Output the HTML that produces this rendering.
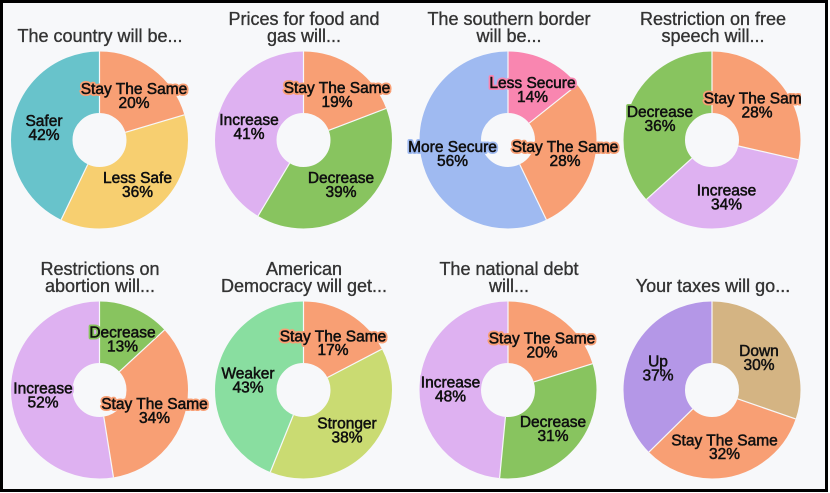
<!DOCTYPE html>
<html>
<head>
<meta charset="utf-8">
<style>
  html, body { margin: 0; padding: 0; background: #ffffff; }
  body { width: 830px; height: 493px; overflow: hidden; }
  svg { display: block; }
  .t { font-family: "Liberation Sans", Arial, sans-serif; font-size: 18px; fill: #333333; text-anchor: middle;
       stroke: #333333; stroke-width: 0.35px; }
  .l { font-family: "Liberation Sans", Arial, sans-serif; font-size: 15.5px; fill: #111111; text-anchor: middle;
       stroke-width: 4px; stroke-linejoin: round; paint-order: stroke; }
  .f text { font-family: "Liberation Sans", Arial, sans-serif; font-size: 15.5px; fill: #111111; text-anchor: middle;
       stroke: #111111; stroke-width: 0.5px; }
  .sep { stroke: #f7f8fa; stroke-width: 1.2; }
</style>
</head>
<body>
<svg width="830" height="493" viewBox="0 0 830 493" xmlns="http://www.w3.org/2000/svg">
  <defs>
    <clipPath id="c4"><rect x="600" y="0" width="201" height="250"/></clipPath>
  </defs>
  <rect x="0" y="0" width="830" height="493" fill="#ffffff"/>
  <rect x="1.5" y="1.5" width="825" height="489" fill="#f7f8fa" stroke="#000000" stroke-width="3"/>

  <!-- ================= Chart 1 ================= -->
  <g transform="rotate(-90 99.5 140)" fill="none" stroke-width="61.5">
    <circle cx="99.5" cy="140" r="57.75" pathLength="100" stroke="#f89f74" stroke-dasharray="20.408 100" stroke-dashoffset="0"/>
    <circle cx="99.5" cy="140" r="57.75" pathLength="100" stroke="#f7cf70" stroke-dasharray="36.735 100" stroke-dashoffset="-20.408"/>
    <circle cx="99.5" cy="140" r="57.75" pathLength="100" stroke="#68c3cb" stroke-dasharray="42.857 100" stroke-dashoffset="-57.143"/>
  </g>
  <g class="sep">
    <line x1="99.5" y1="113" x2="99.5" y2="51.5" transform="rotate(0 99.5 140)"/>
    <line x1="99.5" y1="113" x2="99.5" y2="51.5" transform="rotate(73.47 99.5 140)"/>
    <line x1="99.5" y1="113" x2="99.5" y2="51.5" transform="rotate(205.71 99.5 140)"/>
  </g>
  <text class="t" x="100" y="42">The country will be...</text>
  <text class="l" x="134" y="94" stroke="#f89f74">Stay The Same</text>
  <text class="l" x="134" y="108" stroke="#f89f74">20%</text>
  <text class="l" x="44" y="126" stroke="#68c3cb">Safer</text>
  <text class="l" x="44" y="140" stroke="#68c3cb">42%</text>
  <text class="l" x="137.5" y="183" stroke="#f7cf70">Less Safe</text>
  <text class="l" x="137.5" y="197" stroke="#f7cf70">36%</text>
  <g class="f">
    <text x="134" y="94">Stay The Same</text>
    <text x="134" y="108">20%</text>
    <text x="44" y="126">Safer</text>
    <text x="44" y="140">42%</text>
    <text x="137.5" y="183">Less Safe</text>
    <text x="137.5" y="197">36%</text>
  </g>

  <!-- ================= Chart 2 ================= -->
  <g transform="rotate(-90 303.5 140)" fill="none" stroke-width="61.5">
    <circle cx="303.5" cy="140" r="57.75" pathLength="100" stroke="#f89f74" stroke-dasharray="19.192 100" stroke-dashoffset="0"/>
    <circle cx="303.5" cy="140" r="57.75" pathLength="100" stroke="#88c45f" stroke-dasharray="39.394 100" stroke-dashoffset="-19.192"/>
    <circle cx="303.5" cy="140" r="57.75" pathLength="100" stroke="#deb1f1" stroke-dasharray="41.414 100" stroke-dashoffset="-58.586"/>
  </g>
  <g class="sep">
    <line x1="303.5" y1="113" x2="303.5" y2="51.5" transform="rotate(0 303.5 140)"/>
    <line x1="303.5" y1="113" x2="303.5" y2="51.5" transform="rotate(69.09 303.5 140)"/>
    <line x1="303.5" y1="113" x2="303.5" y2="51.5" transform="rotate(210.91 303.5 140)"/>
  </g>
  <text class="t" x="304" y="25">Prices for food and</text>
  <text class="t" x="304" y="42">gas will...</text>
  <text class="l" x="337" y="93" stroke="#f89f74">Stay The Same</text>
  <text class="l" x="337" y="107" stroke="#f89f74">19%</text>
  <text class="l" x="249" y="125" stroke="#deb1f1">Increase</text>
  <text class="l" x="249" y="139" stroke="#deb1f1">41%</text>
  <text class="l" x="341" y="183" stroke="#88c45f">Decrease</text>
  <text class="l" x="341" y="197" stroke="#88c45f">39%</text>
  <g class="f">
    <text x="337" y="93">Stay The Same</text>
    <text x="337" y="107">19%</text>
    <text x="249" y="125">Increase</text>
    <text x="249" y="139">41%</text>
    <text x="341" y="183">Decrease</text>
    <text x="341" y="197">39%</text>
  </g>

  <!-- ================= Chart 3 ================= -->
  <g transform="rotate(-90 508 140)" fill="none" stroke-width="61.5">
    <circle cx="508" cy="140" r="57.75" pathLength="100" stroke="#f986b0" stroke-dasharray="14.286 100" stroke-dashoffset="0"/>
    <circle cx="508" cy="140" r="57.75" pathLength="100" stroke="#f89f74" stroke-dasharray="28.571 100" stroke-dashoffset="-14.286"/>
    <circle cx="508" cy="140" r="57.75" pathLength="100" stroke="#9fbaf1" stroke-dasharray="57.143 100" stroke-dashoffset="-42.857"/>
  </g>
  <g class="sep">
    <line x1="508" y1="113" x2="508" y2="51.5" transform="rotate(0 508 140)"/>
    <line x1="508" y1="113" x2="508" y2="51.5" transform="rotate(51.43 508 140)"/>
    <line x1="508" y1="113" x2="508" y2="51.5" transform="rotate(154.29 508 140)"/>
  </g>
  <text class="t" x="509" y="25">The southern border</text>
  <text class="t" x="509" y="42">will be...</text>
  <text class="l" x="532.5" y="88" stroke="#f986b0">Less Secure</text>
  <text class="l" x="532.5" y="102" stroke="#f986b0">14%</text>
  <text class="l" x="452.5" y="152" stroke="#9fbaf1">More Secure</text>
  <text class="l" x="452.5" y="166" stroke="#9fbaf1">56%</text>
  <text class="l" x="565" y="152" stroke="#f89f74">Stay The Same</text>
  <text class="l" x="565" y="166" stroke="#f89f74">28%</text>
  <g class="f">
    <text x="532.5" y="88">Less Secure</text>
    <text x="532.5" y="102">14%</text>
    <text x="452.5" y="152">More Secure</text>
    <text x="452.5" y="166">56%</text>
    <text x="565" y="152">Stay The Same</text>
    <text x="565" y="166">28%</text>
  </g>

  <!-- ================= Chart 4 ================= -->
  <g transform="rotate(-90 712 140)" fill="none" stroke-width="61.5">
    <circle cx="712" cy="140" r="57.75" pathLength="100" stroke="#f89f74" stroke-dasharray="28.571 100" stroke-dashoffset="0"/>
    <circle cx="712" cy="140" r="57.75" pathLength="100" stroke="#deb1f1" stroke-dasharray="34.694 100" stroke-dashoffset="-28.571"/>
    <circle cx="712" cy="140" r="57.75" pathLength="100" stroke="#88c45f" stroke-dasharray="36.735 100" stroke-dashoffset="-63.265"/>
  </g>
  <g class="sep">
    <line x1="712" y1="113" x2="712" y2="51.5" transform="rotate(0 712 140)"/>
    <line x1="712" y1="113" x2="712" y2="51.5" transform="rotate(102.86 712 140)"/>
    <line x1="712" y1="113" x2="712" y2="51.5" transform="rotate(227.76 712 140)"/>
  </g>
  <text class="t" x="713" y="25">Restriction on free</text>
  <text class="t" x="713" y="42">speech will...</text>
  <g clip-path="url(#c4)">
    <text class="l" x="757" y="103.5" stroke="#f89f74">Stay The Same</text>
    <text class="l" x="757" y="117.5" stroke="#f89f74">28%</text>
    <g class="f">
      <text x="757" y="103.5">Stay The Same</text>
      <text x="757" y="117.5">28%</text>
    </g>
  </g>
  <text class="l" x="660" y="117" stroke="#88c45f">Decrease</text>
  <text class="l" x="660" y="131" stroke="#88c45f">36%</text>
  <text class="l" x="726.5" y="195.5" stroke="#deb1f1">Increase</text>
  <text class="l" x="726.5" y="209.5" stroke="#deb1f1">34%</text>
  <g class="f">
    <text x="660" y="117">Decrease</text>
    <text x="660" y="131">36%</text>
    <text x="726.5" y="195.5">Increase</text>
    <text x="726.5" y="209.5">34%</text>
  </g>

  <!-- ================= Chart 5 ================= -->
  <g transform="rotate(-90 99.5 390)" fill="none" stroke-width="61.5">
    <circle cx="99.5" cy="390" r="57.75" pathLength="100" stroke="#88c45f" stroke-dasharray="13.131 100" stroke-dashoffset="0"/>
    <circle cx="99.5" cy="390" r="57.75" pathLength="100" stroke="#f89f74" stroke-dasharray="34.343 100" stroke-dashoffset="-13.131"/>
    <circle cx="99.5" cy="390" r="57.75" pathLength="100" stroke="#deb1f1" stroke-dasharray="52.525 100" stroke-dashoffset="-47.475"/>
  </g>
  <g class="sep">
    <line x1="99.5" y1="363" x2="99.5" y2="301.5" transform="rotate(0 99.5 390)"/>
    <line x1="99.5" y1="363" x2="99.5" y2="301.5" transform="rotate(47.27 99.5 390)"/>
    <line x1="99.5" y1="363" x2="99.5" y2="301.5" transform="rotate(170.91 99.5 390)"/>
  </g>
  <text class="t" x="100" y="275">Restrictions on</text>
  <text class="t" x="100" y="292">abortion will...</text>
  <text class="l" x="122.5" y="337.5" stroke="#88c45f">Decrease</text>
  <text class="l" x="122.5" y="351.5" stroke="#88c45f">13%</text>
  <text class="l" x="43" y="393.5" stroke="#deb1f1">Increase</text>
  <text class="l" x="43" y="407.5" stroke="#deb1f1">52%</text>
  <text class="l" x="154.5" y="409" stroke="#f89f74">Stay The Same</text>
  <text class="l" x="154.5" y="423" stroke="#f89f74">34%</text>
  <g class="f">
    <text x="122.5" y="337.5">Decrease</text>
    <text x="122.5" y="351.5">13%</text>
    <text x="43" y="393.5">Increase</text>
    <text x="43" y="407.5">52%</text>
    <text x="154.5" y="409">Stay The Same</text>
    <text x="154.5" y="423">34%</text>
  </g>

  <!-- ================= Chart 6 ================= -->
  <g transform="rotate(-90 303.5 390)" fill="none" stroke-width="61.5">
    <circle cx="303.5" cy="390" r="57.75" pathLength="100" stroke="#f89f74" stroke-dasharray="17.347 100" stroke-dashoffset="0"/>
    <circle cx="303.5" cy="390" r="57.75" pathLength="100" stroke="#cadb72" stroke-dasharray="38.776 100" stroke-dashoffset="-17.347"/>
    <circle cx="303.5" cy="390" r="57.75" pathLength="100" stroke="#89dea0" stroke-dasharray="43.878 100" stroke-dashoffset="-56.122"/>
  </g>
  <g class="sep">
    <line x1="303.5" y1="363" x2="303.5" y2="301.5" transform="rotate(0 303.5 390)"/>
    <line x1="303.5" y1="363" x2="303.5" y2="301.5" transform="rotate(62.45 303.5 390)"/>
    <line x1="303.5" y1="363" x2="303.5" y2="301.5" transform="rotate(202.04 303.5 390)"/>
  </g>
  <text class="t" x="304" y="275">American</text>
  <text class="t" x="304" y="292">Democracy will get...</text>
  <text class="l" x="333" y="341.5" stroke="#f89f74">Stay The Same</text>
  <text class="l" x="333" y="355" stroke="#f89f74">17%</text>
  <text class="l" x="248" y="378.5" stroke="#89dea0">Weaker</text>
  <text class="l" x="248" y="392.5" stroke="#89dea0">43%</text>
  <text class="l" x="347" y="428.5" stroke="#cadb72">Stronger</text>
  <text class="l" x="347" y="442.5" stroke="#cadb72">38%</text>
  <g class="f">
    <text x="333" y="341.5">Stay The Same</text>
    <text x="333" y="355">17%</text>
    <text x="248" y="378.5">Weaker</text>
    <text x="248" y="392.5">43%</text>
    <text x="347" y="428.5">Stronger</text>
    <text x="347" y="442.5">38%</text>
  </g>

  <!-- ================= Chart 7 ================= -->
  <g transform="rotate(-90 508 390)" fill="none" stroke-width="61.5">
    <circle cx="508" cy="390" r="57.75" pathLength="100" stroke="#f89f74" stroke-dasharray="20.202 100" stroke-dashoffset="0"/>
    <circle cx="508" cy="390" r="57.75" pathLength="100" stroke="#88c45f" stroke-dasharray="31.313 100" stroke-dashoffset="-20.202"/>
    <circle cx="508" cy="390" r="57.75" pathLength="100" stroke="#deb1f1" stroke-dasharray="48.485 100" stroke-dashoffset="-51.515"/>
  </g>
  <g class="sep">
    <line x1="508" y1="363" x2="508" y2="301.5" transform="rotate(0 508 390)"/>
    <line x1="508" y1="363" x2="508" y2="301.5" transform="rotate(72.73 508 390)"/>
    <line x1="508" y1="363" x2="508" y2="301.5" transform="rotate(185.45 508 390)"/>
  </g>
  <text class="t" x="509" y="275">The national debt</text>
  <text class="t" x="509" y="292">will...</text>
  <text class="l" x="542" y="343.5" stroke="#f89f74">Stay The Same</text>
  <text class="l" x="542" y="357.5" stroke="#f89f74">20%</text>
  <text class="l" x="450.5" y="387.5" stroke="#deb1f1">Increase</text>
  <text class="l" x="450.5" y="401.5" stroke="#deb1f1">48%</text>
  <text class="l" x="553" y="427" stroke="#88c45f">Decrease</text>
  <text class="l" x="553" y="441" stroke="#88c45f">31%</text>
  <g class="f">
    <text x="542" y="343.5">Stay The Same</text>
    <text x="542" y="357.5">20%</text>
    <text x="450.5" y="387.5">Increase</text>
    <text x="450.5" y="401.5">48%</text>
    <text x="553" y="427">Decrease</text>
    <text x="553" y="441">31%</text>
  </g>

  <!-- ================= Chart 8 ================= -->
  <g transform="rotate(-90 712 390)" fill="none" stroke-width="61.5">
    <circle cx="712" cy="390" r="57.75" pathLength="100" stroke="#d4b483" stroke-dasharray="30.303 100" stroke-dashoffset="0"/>
    <circle cx="712" cy="390" r="57.75" pathLength="100" stroke="#f89f74" stroke-dasharray="32.323 100" stroke-dashoffset="-30.303"/>
    <circle cx="712" cy="390" r="57.75" pathLength="100" stroke="#b497e7" stroke-dasharray="37.374 100" stroke-dashoffset="-62.626"/>
  </g>
  <g class="sep">
    <line x1="712" y1="363" x2="712" y2="301.5" transform="rotate(0 712 390)"/>
    <line x1="712" y1="363" x2="712" y2="301.5" transform="rotate(109.09 712 390)"/>
    <line x1="712" y1="363" x2="712" y2="301.5" transform="rotate(225.45 712 390)"/>
  </g>
  <text class="t" x="713" y="292">Your taxes will go...</text>
  <g class="f">
    <text x="759" y="356">Down</text>
    <text x="759" y="370">30%</text>
    <text x="658" y="366.5">Up</text>
    <text x="658" y="380.5">37%</text>
    <text x="724.5" y="445.5">Stay The Same</text>
    <text x="724.5" y="459">32%</text>
  </g>
</svg>
</body>
</html>
